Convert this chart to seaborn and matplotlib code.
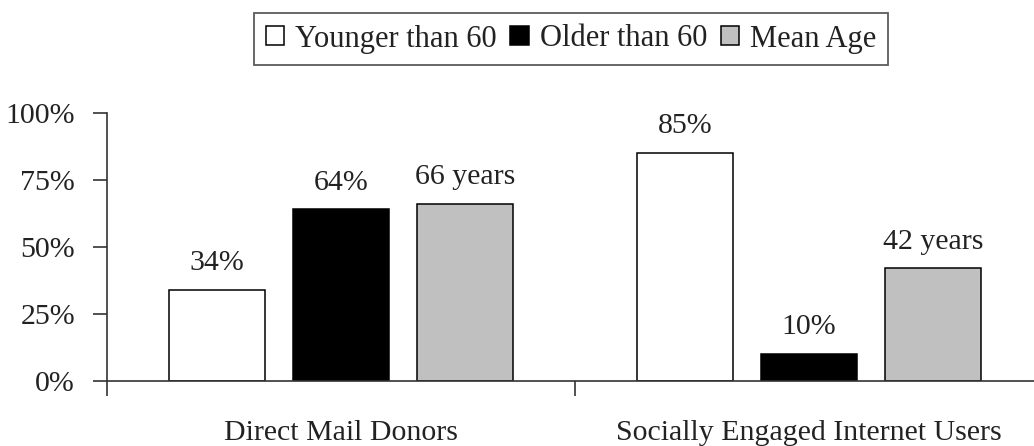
import pandas as pd
import numpy as np
import matplotlib.pyplot as plt
import seaborn as sns
from matplotlib.ticker import FixedLocator, NullFormatter

groups = ["Direct Mail Donors", "Socially Engaged Internet Users"]
series = ["Younger than 60", "Older than 60", "Mean Age"]
younger = [34, 85]
older = [64, 10]
mean_age = [66, 42]
bar_text = [["34%", "85%"], ["64%", "10%"], ["66 years", "42 years"]]
colors = ["#FFFFFF", "#000000", "#C0C0C0"]

df = pd.DataFrame({
    "group": groups * 3,
    "series": np.repeat(series, len(groups)),
    "value": younger + older + mean_age,
})

sns.set_style("white")
plt.rcParams["font.family"] = ["Liberation Serif", "DejaVu Serif"]
plt.rcParams["font.size"] = 21.5
fs = 21.5

fig = plt.figure(figsize=(10.34, 4.46), dpi=100)
ax = fig.add_axes([107 / 1034, 1 - 381 / 446, 936 / 1034, 268 / 446])

sns.barplot(data=df, x="group", y="value", hue="series", order=groups,
            hue_order=series, palette=colors, width=0.795, gap=0.226,
            edgecolor="black", linewidth=1.1, saturation=1, legend=True, ax=ax)

for cont, txt in zip(ax.containers, bar_text):
    ax.bar_label(cont, labels=txt, padding=10, fontsize=fs, color="#222222")

ax.set_xlim(-0.5, 1.5)
ax.set_ylim(0, 100)
ax.set_yticks([0, 25, 50, 75, 100])
ax.set_yticklabels(["0%", "25%", "50%", "75%", "100%"])
ax.xaxis.set_major_locator(FixedLocator([-0.5, 0.5, 1.5]))
ax.xaxis.set_major_formatter(NullFormatter())
ax.xaxis.set_minor_locator(FixedLocator([0, 1]))
ax.set_xticklabels(groups, minor=True)
ax.tick_params(axis="x", which="major", direction="out", length=11, width=1.2,
               bottom=True, color="#333333")
ax.tick_params(axis="x", which="minor", length=0, pad=28, labelsize=fs,
               labelcolor="#222222")
ax.tick_params(axis="y", direction="out", length=10, width=1.2, left=True,
               pad=13, labelsize=fs, labelcolor="#222222", color="#333333")
ax.set_xlabel("")
ax.set_ylabel("")
for s in ["top", "right"]:
    ax.spines[s].set_visible(False)
for s in ["left", "bottom"]:
    ax.spines[s].set_color("#333333")
    ax.spines[s].set_linewidth(1.2)

handles, labels = ax.get_legend_handles_labels()
ax.get_legend().remove()
leg = fig.legend(handles, labels, loc="center", bbox_to_anchor=(571 / 1034, 1 - 39 / 446),
                 ncol=3, frameon=True, fancybox=False, handlelength=0.6,
                 handleheight=0.6, handletextpad=0.36, columnspacing=0.45,
                 borderpad=0.38, fontsize=22, borderaxespad=0)
leg.get_frame().set_edgecolor("#333333")
leg.get_frame().set_linewidth(1.3)
for t in leg.get_texts():
    t.set_color("#222222")

fig.savefig("out.png", dpi=100)
